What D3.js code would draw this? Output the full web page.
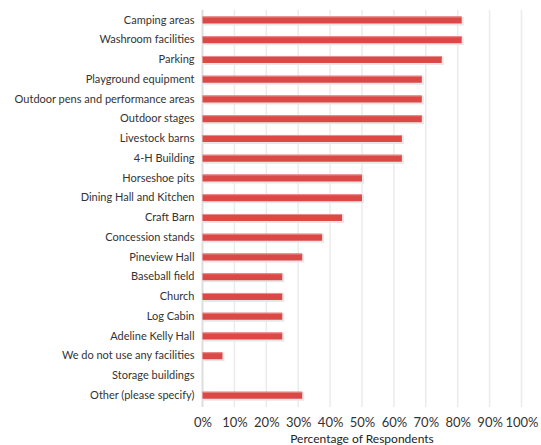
<!DOCTYPE html>
<html><head><meta charset="utf-8">
<script src="https://cdn.jsdelivr.net/npm/d3@7"></script>
<style>body{margin:0;background:#fff}svg{display:block}text{font-family:Lato,"Noto Sans",sans-serif}</style>
</head><body><svg id="c" width="541" height="445"></svg>
<script>
const categories = ["Camping areas","Washroom facilities","Parking","Playground equipment","Outdoor pens and performance areas","Outdoor stages","Livestock barns","4-H Building","Horseshoe pits","Dining Hall and Kitchen","Craft Barn","Concession stands","Pineview Hall","Baseball field","Church","Log Cabin","Adeline Kelly Hall","We do not use any facilities","Storage buildings","Other (please specify)"];
const values = [81.25,81.25,75,68.75,68.75,68.75,62.5,62.5,50,50,43.75,37.5,31.25,25,25,25,25,6.25,0,31.25];
const ticks = [0,10,20,30,40,50,60,70,80,90,100];
const axisTitle = "Percentage of Respondents";

const svg = d3.select("#c");
const x = d3.scaleLinear().domain([0,100]).range([202.5,521.5]);
const y = d3.scaleBand().domain(categories).range([10.1,405.1]).padding(0);
const barH = 7;

// gridlines
svg.append("g").selectAll("line").data(ticks).join("line")
  .attr("x1",d=>x(d)).attr("x2",d=>x(d)).attr("y1",10).attr("y2",407)
  .attr("stroke",d=>d===0?"#dedede":"#ebebeb").attr("stroke-width",d=>d===0?2:1.5);

const bars = svg.append("g").selectAll("g").data(categories).join("g");
bars.filter((d,i)=>values[i]>0).append("rect")
  .attr("x",x(0)).attr("y",d=>y(d)+y.bandwidth()/2-barH/2+0.5)
  .attr("width",(d)=>x(values[categories.indexOf(d)])-x(0)+2).attr("height",barH+1.5)
  .attr("fill","#e6e6e6");
bars.filter((d,i)=>values[i]>0).append("rect")
  .attr("x",x(0)).attr("y",d=>y(d)+y.bandwidth()/2-barH/2)
  .attr("width",(d)=>x(values[categories.indexOf(d)])-x(0)).attr("height",barH)
  .attr("fill","#dc4845");
bars.filter((d,i)=>values[i]>0).append("rect")
  .attr("x",x(0)).attr("y",d=>y(d)+y.bandwidth()/2-barH/2)
  .attr("width",(d)=>x(values[categories.indexOf(d)])-x(0)).attr("height",1)
  .attr("fill","#eb8f8d");

// y labels
const yAxis = d3.axisLeft(y).tickSize(0).tickPadding(8);
const gy = svg.append("g").attr("transform",`translate(${x(0)},0)`).call(yAxis);
gy.select(".domain").remove();
gy.selectAll("text").attr("font-size",11).attr("fill","#333").style("font-family","Lato,'Noto Sans',sans-serif");

// x axis
const xAxis = d3.axisBottom(x).tickValues(ticks).tickFormat(d=>d+"%").tickSize(0).tickPadding(0);
const gx = svg.append("g").attr("transform","translate(0,418)").call(xAxis);
gx.select(".domain").remove();
gx.selectAll("text").attr("font-size",13).attr("fill","#333").style("font-family","Lato,'Noto Sans',sans-serif");

svg.append("text").attr("x",(x(0)+x(100))/2).attr("y",443).attr("text-anchor","middle")
  .attr("font-size",12).attr("fill","#222").text(axisTitle);
</script></body></html>
